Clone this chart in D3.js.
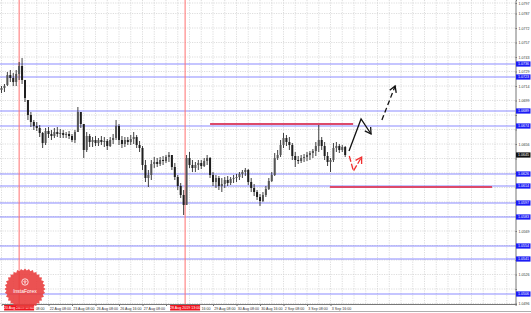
<!DOCTYPE html>
<html>
<head>
<meta charset="utf-8">
<script src="https://cdnjs.cloudflare.com/ajax/libs/d3/7.8.5/d3.min.js"></script>
<style>
  body { margin: 0; background: #fff; }
  text { font-family: "Liberation Sans", Arial, sans-serif; }
</style>
</head>
<body>
<div id="chart"></div>
<script>
// velas H1: [open, high, low, close]
var candles = [
  [1.0710,1.0714,1.0707,1.0712],[1.0712,1.0716,1.0708,1.0714],[1.0715,1.0728,1.0714,1.0725],[1.0725,1.0730,1.0718,1.0722],
  [1.0722,1.0727,1.0714,1.0718],[1.0718,1.0730,1.0714,1.0726],[1.0726,1.0738,1.0720,1.0734],[1.0734,1.0742,1.0716,1.0720],
  [1.0720,1.0720,1.0698,1.0702],[1.0700,1.0700,1.0680,1.0685],[1.0685,1.0688,1.0673,1.0678],[1.0678,1.0680,1.0670,1.0674],
  [1.0674,1.0678,1.0669,1.0672],[1.0672,1.0675,1.0663,1.0667],[1.0667,1.0668,1.0652,1.0657],[1.0657,1.0672,1.0655,1.0669],
  [1.0669,1.0673,1.0662,1.0666],[1.0666,1.0670,1.0660,1.0664],[1.0664,1.0672,1.0662,1.0668],[1.0668,1.0673,1.0663,1.0666],
  [1.0666,1.0671,1.0662,1.0667],[1.0667,1.0670,1.0662,1.0665],[1.0665,1.0668,1.0662,1.0666],[1.0666,1.0669,1.0661,1.0664],
  [1.0664,1.0666,1.0658,1.0660],[1.0660,1.0670,1.0657,1.0668],[1.0668,1.0693,1.0668,1.0688],[1.0688,1.0688,1.0672,1.0676],
  [1.0676,1.0676,1.0642,1.0650],[1.0650,1.0668,1.0648,1.0664],[1.0664,1.0666,1.0653,1.0658],[1.0658,1.0663,1.0653,1.0660],
  [1.0660,1.0664,1.0654,1.0657],[1.0657,1.0662,1.0654,1.0660],[1.0660,1.0664,1.0655,1.0658],[1.0658,1.0663,1.0653,1.0659],
  [1.0659,1.0661,1.0650,1.0654],[1.0654,1.0663,1.0653,1.0660],[1.0660,1.0666,1.0656,1.0662],[1.0662,1.0680,1.0660,1.0674],
  [1.0674,1.0676,1.0655,1.0660],[1.0660,1.0664,1.0652,1.0656],[1.0656,1.0663,1.0653,1.0660],[1.0660,1.0663,1.0655,1.0658],
  [1.0658,1.0665,1.0655,1.0661],[1.0661,1.0668,1.0656,1.0663],[1.0663,1.0665,1.0652,1.0655],[1.0655,1.0659,1.0648,1.0652],
  [1.0652,1.0654,1.0630,1.0635],[1.0635,1.0640,1.0618,1.0622],[1.0622,1.0630,1.0613,1.0625],[1.0625,1.0640,1.0620,1.0636],
  [1.0636,1.0643,1.0632,1.0638],[1.0638,1.0642,1.0633,1.0636],[1.0636,1.0643,1.0634,1.0640],[1.0640,1.0644,1.0635,1.0639],
  [1.0639,1.0645,1.0637,1.0643],[1.0643,1.0648,1.0638,1.0645],[1.0645,1.0645,1.0630,1.0633],[1.0633,1.0637,1.0620,1.0623],
  [1.0623,1.0625,1.0610,1.0614],[1.0614,1.0617,1.0602,1.0605],[1.0605,1.0610,1.0585,1.0595],[1.0595,1.0645,1.0595,1.0642],
  [1.0642,1.0648,1.0632,1.0635],[1.0635,1.0640,1.0628,1.0632],[1.0632,1.0638,1.0628,1.0635],[1.0635,1.0640,1.0630,1.0637],
  [1.0637,1.0640,1.0631,1.0634],[1.0634,1.0642,1.0633,1.0639],[1.0639,1.0645,1.0635,1.0642],[1.0642,1.0643,1.0622,1.0625],
  [1.0625,1.0628,1.0614,1.0618],[1.0618,1.0625,1.0612,1.0622],[1.0622,1.0624,1.0610,1.0614],[1.0614,1.0622,1.0608,1.0616],
  [1.0616,1.0623,1.0612,1.0620],[1.0620,1.0624,1.0614,1.0617],[1.0617,1.0623,1.0615,1.0621],[1.0621,1.0625,1.0617,1.0622],
  [1.0622,1.0626,1.0618,1.0623],[1.0623,1.0628,1.0620,1.0626],[1.0626,1.0630,1.0622,1.0628],[1.0628,1.0632,1.0624,1.0630],
  [1.0630,1.0631,1.0615,1.0618],[1.0618,1.0622,1.0608,1.0612],[1.0612,1.0616,1.0604,1.0608],[1.0608,1.0610,1.0600,1.0603],
  [1.0603,1.0606,1.0594,1.0599],[1.0599,1.0608,1.0598,1.0605],[1.0605,1.0614,1.0603,1.0611],[1.0611,1.0622,1.0610,1.0619],
  [1.0619,1.0628,1.0618,1.0625],[1.0625,1.0647,1.0624,1.0642],[1.0642,1.0650,1.0640,1.0645],[1.0645,1.0660,1.0643,1.0655],
  [1.0655,1.0667,1.0652,1.0662],[1.0662,1.0665,1.0654,1.0658],[1.0658,1.0663,1.0650,1.0655],[1.0655,1.0657,1.0640,1.0644],
  [1.0644,1.0648,1.0633,1.0640],[1.0640,1.0644,1.0636,1.0639],[1.0639,1.0645,1.0637,1.0642],[1.0642,1.0646,1.0638,1.0643],
  [1.0643,1.0648,1.0639,1.0645],[1.0645,1.0649,1.0640,1.0647],[1.0647,1.0651,1.0642,1.0649],[1.0649,1.0658,1.0644,1.0654],
  [1.0654,1.0676,1.0648,1.0660],[1.0660,1.0663,1.0650,1.0654],[1.0654,1.0658,1.0640,1.0644],[1.0644,1.0648,1.0634,1.0638],
  [1.0638,1.0642,1.0628,1.0640],[1.0640,1.0657,1.0638,1.0652],[1.0652,1.0658,1.0648,1.0654],[1.0654,1.0656,1.0647,1.0650],
  [1.0650,1.0655,1.0648,1.0653],[1.0653,1.0654,1.0643,1.0645]
];

// niveles horizontales (azules)
var levels = [1.0736, 1.0723, 1.0689, 1.0674, 1.0626, 1.0614, 1.0597, 1.0583, 1.0554, 1.0541, 1.0506];

// escala de precios (eje derecho)
var priceTicks = [1.0797,1.07865,1.0772,1.07575,1.0743,1.07285,1.0714,1.06995,1.0685,1.06705,1.0656,
                  1.06415,1.0627,1.06125,1.0598,1.05835,1.0569,1.05545,1.0540,1.05255,1.0511,1.04965];

// eje de tiempo: indice de vela y etiqueta
var timeIdx = [8,16,24,32,40,48,56,64,72,80,88,96,104,112];
var timeLabels = ["21 Aug 08:00","22 Aug 08:00","23 Aug 08:00","26 Aug 08:00","26 Aug 16:00","27 Aug 08:00",
                  "28 Aug 08:00","28 Aug 16:00","29 Aug 08:00","30 Aug 08:00","30 Aug 16:00","2 Sep 08:00",
                  "3 Sep 08:00","3 Sep 16:00"];

// lineas verticales rojas
var vLines = [6, 62.5];
var vLabels = ["20 Aug 2019 18:00", "28 Aug 2019 13:00"];

// segmentos rojos (soporte / resistencia): [desde, hasta, precio]
var redSegs = [[71, 119.7, 1.0676], [111.8, 167, 1.0613]];

// flechas de prevision: [indice, precio]
var blackPath = [[118.3,1.0649],[122.4,1.0681],[125.8,1.0666]];
var blackDash = [[129.5,1.0680],[134,1.0714]];
var redPath = [[118.4,1.0644],[119.8,1.0629],[122.6,1.0643]];

var width = 531, height = 313;
var plotRight = 515.5, plotBottom = 304;

// ESCALAS
var eX = d3.scaleLinear().domain([0, 175]).range([1.5, 1.5 + 175 * 2.9375]);
var eY = d3.scaleLinear().domain([1.0496, 1.0800]).range([plotBottom, 0]);

var svg = d3.select("#chart").append("svg")
  .attr("width", width).attr("height", height)
  .style("display", "block");

svg.append("rect").attr("width", width).attr("height", height).attr("fill", "#fff");

// REJILLA
var grid = svg.append("g").attr("stroke", "#cfcfcf").attr("stroke-width", 0.7).attr("stroke-dasharray", "1.2,1.2");
grid.selectAll(".gv").data(d3.range(0, 176, 4)).enter().append("line")
  .attr("x1", function(d){ return eX(d); }).attr("x2", function(d){ return eX(d); })
  .attr("y1", 0).attr("y2", plotBottom);
grid.selectAll(".gh").data(priceTicks).enter().append("line")
  .attr("x1", 0).attr("x2", plotRight)
  .attr("y1", function(d){ return eY(d); }).attr("y2", function(d){ return eY(d); });

// niveles azules
svg.selectAll(".lvl").data(levels).enter().append("line")
  .attr("x1", 0).attr("x2", plotRight)
  .attr("y1", function(d){ return eY(d); }).attr("y2", function(d){ return eY(d); })
  .attr("stroke", "#8c8cff").attr("stroke-width", 1.1);

// lineas verticales rojas
svg.selectAll(".vl").data(vLines).enter().append("line")
  .attr("x1", function(d){ return eX(d); }).attr("x2", function(d){ return eX(d); })
  .attr("y1", 0).attr("y2", plotBottom)
  .attr("stroke", "#ff7070").attr("stroke-width", 1);

// VELAS
var bars = svg.append("g");
bars.selectAll(".wick").data(candles).enter().append("line")
  .attr("x1", function(d, i){ return eX(i); }).attr("x2", function(d, i){ return eX(i); })
  .attr("y1", function(d){ return eY(d[1]); }).attr("y2", function(d){ return eY(d[2]); })
  .attr("stroke", "#2b2b2b").attr("stroke-width", 0.9);
bars.selectAll(".body").data(candles).enter().append("rect")
  .attr("x", function(d, i){ return eX(i) - 1; })
  .attr("width", 2)
  .attr("y", function(d){ return eY(Math.max(d[0], d[3])); })
  .attr("height", function(d){ return Math.max(0.6, Math.abs(eY(d[0]) - eY(d[3]))); })
  .attr("fill", function(d){ return d[3] >= d[0] ? "#555" : "#1e1e1e"; });

// segmentos rojos
svg.selectAll(".rs").data(redSegs).enter().append("line")
  .attr("x1", function(d){ return eX(d[0]); }).attr("x2", function(d){ return eX(d[1]); })
  .attr("y1", function(d){ return eY(d[2]); }).attr("y2", function(d){ return eY(d[2]); })
  .attr("stroke", "#dc4a6a").attr("stroke-width", 2);

// FLECHAS
var line = d3.line().x(function(d){ return eX(d[0]); }).y(function(d){ return eY(d[1]); });
function arrowHead(pts, color) {
  var a = pts[pts.length - 2], b = pts[pts.length - 1];
  var x0 = eX(a[0]), y0 = eY(a[1]), x1 = eX(b[0]), y1 = eY(b[1]);
  var len = Math.hypot(x1 - x0, y1 - y0), ux = (x1 - x0) / len, uy = (y1 - y0) / len;
  var bx = x1 - ux * 6, by = y1 - uy * 6;
  svg.append("path")
    .attr("d", "M" + (bx - uy * 3.5) + "," + (by + ux * 3.5) + "L" + x1 + "," + y1 + "L" + (bx + uy * 3.5) + "," + (by - ux * 3.5))
    .attr("fill", "none").attr("stroke", color).attr("stroke-width", 1.3);
}
svg.append("path").attr("d", line(blackPath)).attr("fill", "none").attr("stroke", "#111").attr("stroke-width", 1.3);
arrowHead(blackPath, "#111");
svg.append("path").attr("d", line(blackDash)).attr("fill", "none").attr("stroke", "#111")
  .attr("stroke-width", 1.3).attr("stroke-dasharray", "5,3");
arrowHead(blackDash, "#111");
svg.append("path").attr("d", line(redPath)).attr("fill", "none").attr("stroke", "#f03030")
  .attr("stroke-width", 1.3).attr("stroke-dasharray", "6,2");
arrowHead(redPath, "#f03030");

// EJES
// las etiquetas grises que quedan debajo de un nivel se ocultan (el recuadro azul las tapa)
var covered = levels.concat([candles[candles.length - 1][3]]);
var yAxis = d3.axisRight(eY).tickValues(priceTicks).tickSize(1.5).tickPadding(1.5)
  .tickFormat(function(d){
    var hidden = covered.some(function(l){ return Math.abs(eY(l) - eY(d)) < 5; });
    return hidden ? "" : d3.format(".4f")(d);
  });
var gy = svg.append("g").attr("transform", "translate(" + plotRight + ",0)").call(yAxis);
gy.select(".domain").attr("stroke", "#777");
gy.selectAll("line").attr("stroke", "#777");
gy.selectAll("text").attr("font-size", "3.6px").attr("fill", "#333").attr("font-family", null);

// etiquetas de tiempo: la parte que queda tapada por los recuadros rojos no se dibuja
var xAxis = d3.axisBottom(eX).tickValues(timeIdx).tickSize(2).tickPadding(1.2)
  .tickFormat(function(d, i){
    var hit = vLines.filter(function(v){ return eX(d) < eX(v) + 15 && eX(d) + 20 > eX(v) - 15; });
    if (!hit.length) return timeLabels[i];
    if (eX(d) + 20 < eX(hit[0]) + 15 + 9) return "";
    return timeLabels[i].split(" ").pop();
  });
var gx = svg.append("g").attr("transform", "translate(0," + plotBottom + ")").call(xAxis);
gx.select(".domain").attr("stroke", "#777");
gx.selectAll("line").attr("stroke", "#777");
gx.selectAll("text").attr("font-size", "3.6px").attr("fill", "#333").attr("text-anchor", "start")
  .attr("font-family", null)
  .attr("dx", function(d){
    var hit = vLines.filter(function(v){ return eX(d) < eX(v) + 15 && eX(d) + 20 > eX(v) - 15; });
    return hit.length ? (eX(hit[0]) + 16 - eX(d)) : 0.8;
  });
svg.append("line").attr("x1", 0).attr("x2", width).attr("y1", 311.5).attr("y2", 311.5)
  .attr("stroke", "#999").attr("stroke-width", 0.8);

// etiquetas de niveles
var lv = svg.selectAll(".lvlab").data(levels).enter().append("g")
  .attr("transform", function(d){ return "translate(" + (plotRight + 0.5) + "," + eY(d) + ")"; });
lv.append("rect").attr("x", 0).attr("y", -2.6).attr("width", 14.5).attr("height", 5.2).attr("fill", "#1c1cf5");
lv.append("text").attr("x", 2).attr("dy", "0.35em").attr("font-size", "3.6px").attr("fill", "#fff")
  .text(function(d){ return d3.format(".4f")(d); });

// precio actual
var last = candles[candles.length - 1][3];
var cur = svg.append("g").attr("transform", "translate(" + (plotRight + 0.5) + "," + eY(last) + ")");
cur.append("rect").attr("x", 0).attr("y", -2.6).attr("width", 14.5).attr("height", 5.2).attr("fill", "#111");
cur.append("text").attr("x", 2).attr("dy", "0.35em").attr("font-size", "3.6px").attr("fill", "#fff")
  .text(d3.format(".4f")(last));

// etiquetas rojas del eje de tiempo
var vl = svg.selectAll(".vlab").data(vLines).enter().append("g")
  .attr("transform", function(d){ return "translate(" + eX(d) + "," + (plotBottom + 1) + ")"; });
vl.append("rect").attr("x", -15).attr("y", 0).attr("width", 30).attr("height", 5.5).attr("fill", "#f0141e");
vl.append("text").attr("text-anchor", "middle").attr("y", 4).attr("font-size", "3.6px").attr("fill", "#fff")
  .text(function(d, i){ return vLabels[i]; });

// LOGO
var logo = svg.append("g").attr("transform", "translate(25,289)");
var teeth = d3.range(0, 64).map(function(k){ return [k / 64 * 2 * Math.PI, k % 2 ? 18.5 : 20.5]; });
logo.append("path").attr("d", d3.lineRadial().curve(d3.curveLinearClosed)(teeth))
  .attr("fill", "#e83a3a").attr("fill-opacity", 0.88);
logo.append("circle").attr("cy", -7).attr("r", 3.2).attr("fill", "none").attr("stroke", "#fff").attr("stroke-width", 0.8);
logo.append("path").attr("d", "M0,-5 L0,-9 M-1.5,-8 L0,-6.5 L1.5,-8").attr("stroke", "#fff").attr("stroke-width", 0.7).attr("fill", "none");
logo.append("text").attr("text-anchor", "middle").attr("y", 4).attr("font-size", "5px").attr("fill", "#fff")
  .text("InstaForex");
</script>
</body>
</html>
